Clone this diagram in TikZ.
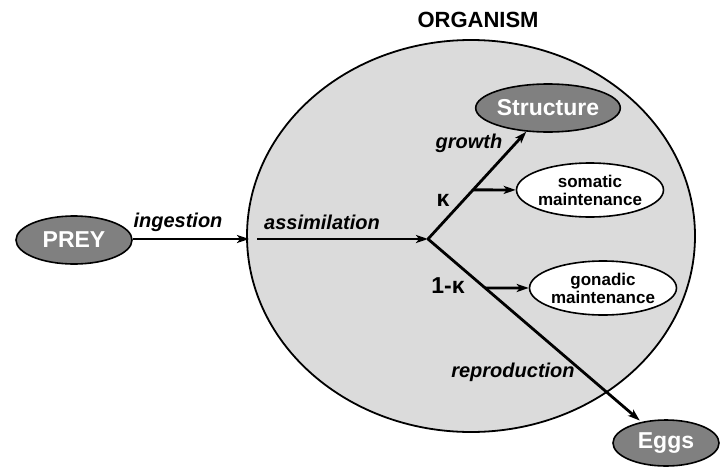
\documentclass[tikz,border=0pt]{standalone}
\usepackage{fontspec}
\setmainfont{Liberation Sans}
\usetikzlibrary{arrows.meta,shapes.geometric}
\begin{document}
\begin{tikzpicture}[x=1pt,y=-1pt,
    darkpool/.style={ellipse,draw,line width=1.6pt,fill=black!50,text=white,
        font=\fontsize{23}{24}\selectfont\bfseries,inner sep=0pt},
    sink/.style={ellipse,draw,line width=1.6pt,fill=white,align=center,
        font=\fontsize{17}{18}\selectfont\bfseries,inner sep=0pt,
        minimum width=114pt,minimum height=54pt},
    flow/.style={line width=2.8pt,-{Stealth[length=12pt,width=8pt,inset=3pt]}},
    lbl/.style={font=\fontsize{20}{21}\selectfont\bfseries\itshape}]
    \useasboundingbox (0,0) rectangle (720,466);
    \node[ellipse,draw,line width=1.8pt,fill=black!14,minimum width=448pt,
        minimum height=392pt,inner sep=0pt] (org) at (471,236) {};
    \node[font=\fontsize{22}{24}\selectfont\bfseries] (title) at (478,20) {ORGANISM};
    \node[darkpool,minimum width=116pt,minimum height=48pt] (prey) at (74,240) {PREY};
    \node[darkpool,minimum width=116pt,minimum height=48pt] (struct) at (548,108) {Structure};
    \node[darkpool,minimum width=106pt,minimum height=46pt] (eggs) at (666,443) {Eggs};
    \node[sink] (soma) at (590,190) {somatic\\maintenance};
    \node[sink] (gona) at (603,288) {gonadic\\maintenance};
    \coordinate (entry) at (249,239);
    \coordinate (inside) at (257,239);
    \coordinate (br) at (428,239);
    \path (br) -- (struct.center) coordinate[pos=0.375] (kb);
    \path (br) -- (eggs.center) coordinate[pos=0.24] (gb);
    % flows
    \draw[flow] (prey.east |- entry) -- (entry);
    \draw[flow] (inside) -- (br);
    \draw[flow,line cap=round] (br) -- (struct);
    \draw[flow,shorten >=2pt] (br) -- (eggs);
    \draw[flow] (kb) -- (soma);
    \draw[flow] (gb) -- (gona);
    % labels
    \node[lbl] (ing) at (178,222) {ingestion};
    \node[lbl] (ass) at (322,222) {assimilation};
    \node[lbl] (gro) at (469,143) {growth};
    \node[lbl] (rep) at (513,372) {reproduction};
    \node[font=\fontsize{23}{24}\selectfont\bfseries] (kap) at (443,200) {κ};
    \node[font=\fontsize{23}{24}\selectfont\bfseries] (omk) at (448,286) {1-κ};
\end{tikzpicture}
\end{document}
